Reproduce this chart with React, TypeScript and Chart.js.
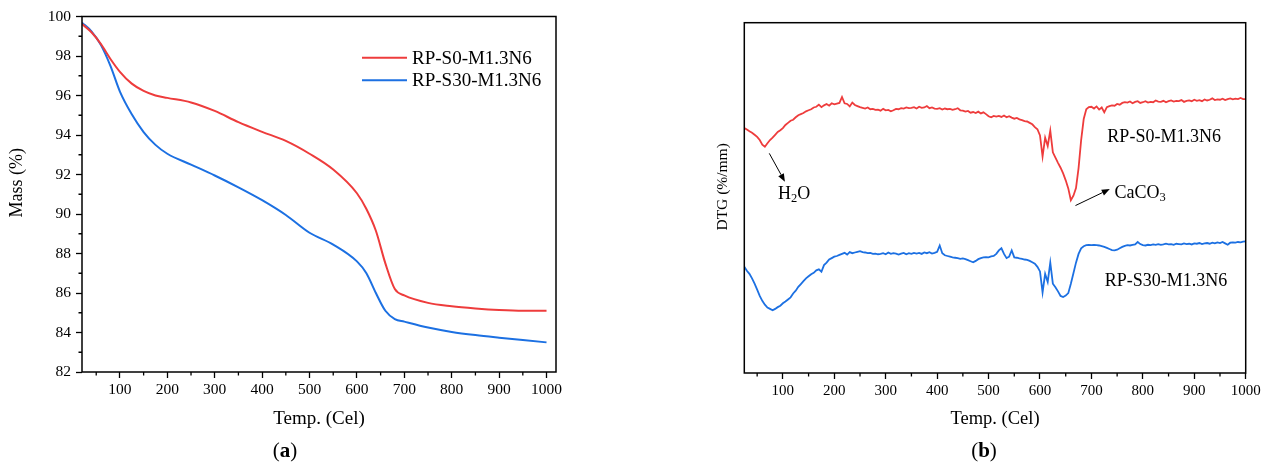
import React, { useEffect, useRef } from "react";
import { Chart, registerables } from "chart.js";
Chart.register(...registerables);

const FONT = "'Liberation Serif', 'Times New Roman', serif";
const RED = "rgb(238,60,60)";
const BLUE = "rgb(28,112,226)";
const SERIES = ["RP-S0-M1.3N6", "RP-S30-M1.3N6"];

// ---------- (a) TGA ----------
const tgaTemps = [20, 40, 60, 80, 100, 125, 150, 175, 200, 250, 300, 350, 400, 450, 500, 550, 600, 620, 640, 660, 680, 700, 750, 800, 850, 900, 950, 1000];
const massS0 = [99.62, 99.2, 98.6, 97.85, 97.2, 96.6, 96.23, 96.0, 95.88, 95.65, 95.22, 94.65, 94.16, 93.7, 93.05, 92.25, 91.05, 90.25, 89.15, 87.5, 86.2, 85.88, 85.5, 85.33, 85.22, 85.14, 85.1, 85.1];
const massS30 = [99.69, 99.25, 98.55, 97.5, 96.2, 95.05, 94.15, 93.5, 93.05, 92.5, 91.95, 91.35, 90.7, 89.95, 89.05, 88.45, 87.6, 87.0, 86.0, 85.1, 84.68, 84.55, 84.25, 84.03, 83.87, 83.74, 83.62, 83.5];
const tgaYTicks = [82, 84, 86, 88, 90, 92, 94, 96, 98, 100];
const tgaYMinor = [83, 85, 87, 89, 91, 93, 95, 97, 99];
const xTicks = [100, 200, 300, 400, 500, 600, 700, 800, 900, 1000];
const xMinor = [50, 150, 250, 350, 450, 550, 650, 750, 850, 950];

// ---------- (b) DTG (arbitrary units) ----------
const dtgTemps = [
  25, 30, 35, 40, 45, 50, 55, 60, 65, 70, 75, 80, 85, 90, 95,
  100, 105, 110, 115, 120, 125, 130, 135, 140, 145, 150, 155, 160, 165, 170, 175, 180, 185, 190, 195,
  200, 205, 210, 215, 220, 225, 230, 235, 240, 245, 250, 255, 260, 265, 270, 275, 280, 285, 290, 295,
  300, 305, 310, 315, 320, 325, 330, 335, 340, 345, 350, 355, 360, 365, 370, 375, 380, 385, 390, 395,
  400, 405, 410, 415, 420, 425, 430, 435, 440, 445, 450, 455, 460, 465, 470, 475, 480, 485, 490, 495,
  500, 505, 510, 515, 520, 525, 530, 535, 540, 545, 550, 555, 560, 565, 570, 575, 580, 585, 590, 595,
  600, 605, 610, 615, 620, 625, 630, 635, 640, 645, 650, 655, 660, 665, 670, 675, 680, 685, 690, 695,
  700, 705, 710, 715, 720, 725, 730, 735, 740, 745, 750, 755, 760, 765, 770, 775, 780, 785, 790, 795,
  800, 805, 810, 815, 820, 825, 830, 835, 840, 845, 850, 855, 860, 865, 870, 875, 880, 885, 890, 895,
  900, 905, 910, 915, 920, 925, 930, 935, 940, 945, 950, 955, 960, 965, 970, 975, 980, 985, 990, 995,
  1000,
];
const dtgS0 = [
  69.9, 69.5, 69.0, 68.6, 68.0, 67.4, 66.5, 65.2, 64.6, 65.6, 66.5, 67.2, 68.0, 68.8, 69.3,
  69.9, 70.8, 71.4, 72.0, 72.3, 73.0, 73.6, 73.9, 74.2, 74.7, 75.0, 75.3, 75.8, 76.0, 76.6, 75.9, 76.4, 76.8, 76.3, 77.0,
  76.7, 76.9, 77.1, 78.8, 77.0, 76.8, 76.1, 77.2, 76.5, 76.2, 75.9, 75.7, 75.5, 75.8, 75.3, 75.4, 75.1, 75.2, 74.9, 75.4,
  75.0, 75.1, 74.7, 75.0, 75.4, 75.3, 75.6, 75.5, 75.8, 75.6, 75.7, 75.9, 75.5, 76.0, 75.7, 75.8, 76.2, 75.6, 75.8, 75.5,
  75.4, 75.6, 75.2, 75.5, 75.3, 75.4, 75.1, 75.3, 75.6, 75.0, 74.9, 74.6, 74.8, 74.3, 74.5, 74.2, 74.6, 74.1, 74.4, 73.9,
  73.3, 73.0, 73.4, 73.2, 73.4, 73.1, 73.5, 73.0, 73.3, 72.9, 72.6, 72.8, 72.4, 72.2, 71.9, 71.8, 71.4, 71.0, 70.2, 69.6,
  67.8, 61.8, 67.2, 64.8, 69.2, 63.0, 61.5, 60.0, 58.6, 57.0, 55.0, 52.7, 49.3, 50.6, 52.8, 58.5, 66.5, 72.5, 75.3, 75.9,
  76.0, 75.5, 76.1, 75.2, 75.8, 74.4, 75.9, 76.2, 76.4, 76.3, 76.8, 76.6, 77.1, 77.3, 77.2, 77.5, 77.0, 77.4, 77.6, 77.1,
  77.3, 77.6, 77.2, 77.4, 77.3, 77.8, 77.5, 77.4, 77.7, 77.3, 77.6, 77.8, 77.5, 77.7, 77.6, 77.9, 77.4, 77.7, 77.8, 77.6,
  78.0, 77.7, 77.9, 77.6, 78.1, 77.8, 78.0, 78.4, 77.9, 78.1, 78.0, 78.3, 77.9, 78.2, 78.4, 78.1, 78.3, 78.2, 78.5, 78.2,
  78.2,
];
const dtgS30 = [
  30.3, 29.2, 28.3, 27.0, 25.5, 23.8, 22.0, 20.6, 19.5, 18.7, 18.3, 17.9, 18.3, 18.8, 19.2,
  19.9, 20.4, 21.0, 21.6, 22.7, 23.5, 24.6, 25.4, 26.2, 27.0, 27.6, 28.2, 28.6, 29.3, 29.6, 28.9, 30.8, 31.5, 32.4, 32.8,
  33.2, 33.4, 33.7, 34.0, 34.3, 33.8, 34.5, 34.2, 34.4, 34.6, 34.8, 34.5, 34.4, 34.2, 34.3, 34.0, 34.1, 33.9, 34.0, 34.2,
  33.9, 34.4, 34.0, 34.2, 34.1, 33.8, 34.1, 34.3, 33.9, 34.2, 34.0, 34.3, 34.1, 34.3, 34.0, 34.4, 34.2, 34.5, 34.1, 34.3,
  34.6, 36.4, 34.2, 33.6, 33.4, 33.2, 33.0, 32.9, 32.8, 32.6, 32.7, 32.5, 32.2, 31.9, 31.6, 32.0, 32.5, 32.8, 33.0, 33.1,
  33.0, 33.3, 33.4, 34.0, 35.0, 35.6, 34.0, 32.8, 33.2, 35.0, 33.0, 32.9, 32.7, 32.6, 32.4, 32.3, 32.0, 31.6, 31.2, 30.3,
  29.0, 23.0, 28.3, 26.0, 31.5, 25.5, 24.5, 23.3, 22.0, 21.7, 22.1, 22.8, 25.5, 28.5, 31.5, 34.0, 35.6, 36.2, 36.5, 36.6,
  36.5, 36.6, 36.5, 36.4, 36.2, 36.0, 35.7, 35.4, 35.1, 35.0, 35.2, 35.6, 36.0, 36.3, 36.5, 36.4, 36.6, 36.7, 37.4, 36.8,
  36.5, 36.4, 36.6, 36.5, 36.7, 36.6, 36.8, 36.6, 36.7, 36.9, 36.7, 36.8, 36.6, 36.9, 36.8, 36.7, 37.0, 36.8, 36.9, 36.7,
  37.0, 36.9, 37.1, 36.8, 37.0, 37.1, 36.9, 37.2, 37.0, 37.3, 37.1, 37.4, 37.0, 36.6, 37.2, 37.3, 37.2, 37.4, 37.3, 37.5,
  37.6,
];

// annotations (in data coordinates of chart b)
const dtgLabels = [
  { text: SERIES[0], x: 731, y: 67.4 },
  { text: SERIES[1], x: 726, y: 26.1 },
];
const dtgSpecies = [
  { parts: [["H", false], ["2", true], ["O", false]], x: 90.5, y: 51.1, from: [73.6, 62.7], to: [104, 54.6] },
  { parts: [["CaCO", false], ["3", true]], x: 745, y: 51.4, from: [669, 47.8], to: [735.7, 52.5] },
];

function pts(xs: number[], ys: number[]) {
  return xs.map((x, i) => ({ x, y: ys[i] }));
}

function decor(cfg: {
  yMinor: number[];
  yTitle: string;
  yTitleSize: number;
  yTitleDx: number;
  yTitleDy: number;
  extra?: (chart: any) => void;
}) {
  return {
    id: "decor",
    afterDraw(chart: any) {
      const { ctx, chartArea: ca, scales } = chart;
      ctx.save();
      ctx.strokeStyle = "#000";
      ctx.lineWidth = 1.5;
      ctx.strokeRect(ca.left, ca.top, ca.right - ca.left, ca.bottom - ca.top);
      ctx.lineWidth = 1.3;
      ctx.beginPath();
      for (const v of xMinor) {
        const px = scales.x.getPixelForValue(v);
        if (px < ca.left || px > ca.right) continue;
        ctx.moveTo(px, ca.bottom);
        ctx.lineTo(px, ca.bottom + 3.5);
      }
      for (const v of cfg.yMinor) {
        const py = scales.y.getPixelForValue(v);
        ctx.moveTo(ca.left, py);
        ctx.lineTo(ca.left - 3.5, py);
      }
      ctx.stroke();
      // y title
      ctx.fillStyle = "#000";
      ctx.font = `${cfg.yTitleSize}px ${FONT}`;
      ctx.textAlign = "center";
      ctx.textBaseline = "middle";
      ctx.translate(ca.left + cfg.yTitleDx, (ca.top + ca.bottom) / 2 + cfg.yTitleDy);
      ctx.rotate(-Math.PI / 2);
      ctx.fillText(cfg.yTitle, 0, 0);
      ctx.restore();
      if (cfg.extra) {
        ctx.save();
        cfg.extra(chart);
        ctx.restore();
      }
    },
  };
}

function xScale(min: number, max: number, h: number, tickSize: number, titleSize: number) {
  return {
    type: "linear",
    min,
    max,
    afterBuildTicks: (s: any) => {
      s.ticks = xTicks.map((v) => ({ value: v }));
    },
    afterFit: (s: any) => {
      s.height = h;
      s.paddingLeft = 0;
      s.paddingRight = 0;
    },
    grid: { drawOnChartArea: false, drawTicks: true, tickLength: 6, tickColor: "#000", tickWidth: 1.3 },
    border: { display: false },
    ticks: {
      color: "#000",
      font: { family: FONT, size: tickSize },
      padding: 3,
      maxRotation: 0,
      autoSkip: false,
      callback: (v: any) => String(v),
    },
    title: { display: true, text: "Temp. (Cel)", color: "#000", font: { family: FONT, size: titleSize }, padding: { top: 0, bottom: 9.6 } },
  };
}

function makeTga(canvas: HTMLCanvasElement) {
  return new Chart(canvas, {
    type: "line",
    data: {
      datasets: [
        { label: SERIES[0], data: pts(tgaTemps, massS0), borderColor: RED, borderWidth: 2, pointRadius: 0, cubicInterpolationMode: "monotone", fill: false },
        { label: SERIES[1], data: pts(tgaTemps, massS30), borderColor: BLUE, borderWidth: 2, pointRadius: 0, cubicInterpolationMode: "monotone", fill: false },
      ],
    },
    options: {
      responsive: false,
      animation: false,
      devicePixelRatio: 1,
      layout: { padding: { left: 0, top: 16.5, right: 64, bottom: 0 } },
      plugins: { legend: { display: false }, tooltip: { enabled: false } },
      scales: {
        x: xScale(20, 1020, 68, 15.5, 19) as any,
        y: {
          type: "linear",
          min: 82,
          max: 100,
          afterBuildTicks: (s: any) => {
            s.ticks = tgaYTicks.map((v) => ({ value: v }));
          },
          afterFit: (s: any) => {
            s.width = 82;
            s.paddingTop = 0;
            s.paddingBottom = 0;
          },
          grid: { drawOnChartArea: false, drawTicks: true, tickLength: 6, tickColor: "#000", tickWidth: 1.3 },
          border: { display: false },
          ticks: { color: "#000", font: { family: FONT, size: 15.5 }, padding: 5 },
        },
      },
    },
    plugins: [
      decor({
        yMinor: tgaYMinor,
        yTitle: "Mass (%)",
        yTitleSize: 18,
        yTitleDx: -64.5,
        yTitleDy: -11.5,
        extra: (chart: any) => {
          const { ctx, chartArea: ca } = chart;
          ctx.font = `19px ${FONT}`;
          ctx.textAlign = "left";
          ctx.textBaseline = "middle";
          chart.data.datasets.forEach((ds: any, i: number) => {
            const y = ca.top + 41.2 + i * 22.5;
            ctx.strokeStyle = ds.borderColor;
            ctx.lineWidth = 2;
            ctx.beginPath();
            ctx.moveTo(ca.right - 194, y);
            ctx.lineTo(ca.right - 149, y);
            ctx.stroke();
            ctx.fillStyle = "#000";
            ctx.fillText(ds.label, ca.right - 144, y + 1);
          });
        },
      }),
    ],
  } as any);
}

function drawArrow(ctx: CanvasRenderingContext2D, x1: number, y1: number, x2: number, y2: number) {
  const ang = Math.atan2(y2 - y1, x2 - x1);
  const hl = 8;
  const hw = 3.2;
  ctx.strokeStyle = "#000";
  ctx.fillStyle = "#000";
  ctx.lineWidth = 1;
  ctx.beginPath();
  ctx.moveTo(x1, y1);
  ctx.lineTo(x2 - hl * Math.cos(ang), y2 - hl * Math.sin(ang));
  ctx.stroke();
  ctx.beginPath();
  ctx.moveTo(x2, y2);
  ctx.lineTo(x2 - hl * Math.cos(ang) + hw * Math.sin(ang), y2 - hl * Math.sin(ang) - hw * Math.cos(ang));
  ctx.lineTo(x2 - hl * Math.cos(ang) - hw * Math.sin(ang), y2 - hl * Math.sin(ang) + hw * Math.cos(ang));
  ctx.closePath();
  ctx.fill();
}

function makeDtg(canvas: HTMLCanvasElement) {
  return new Chart(canvas, {
    type: "line",
    data: {
      datasets: [
        { label: SERIES[0], data: pts(dtgTemps, dtgS0), borderColor: RED, borderWidth: 1.8, pointRadius: 0, tension: 0, fill: false },
        { label: SERIES[1], data: pts(dtgTemps, dtgS30), borderColor: BLUE, borderWidth: 1.8, pointRadius: 0, tension: 0, fill: false },
      ],
    },
    options: {
      responsive: false,
      animation: false,
      devicePixelRatio: 1,
      layout: { padding: { left: 0, top: 22.7, right: 23.3, bottom: 0 } },
      plugins: { legend: { display: false }, tooltip: { enabled: false } },
      scales: {
        x: xScale(25, 1000, 67, 15, 18.5) as any,
        y: {
          type: "linear",
          min: 0,
          max: 100,
          afterFit: (s: any) => {
            s.width = 104.3;
            s.paddingTop = 0;
            s.paddingBottom = 0;
          },
          grid: { display: false, drawTicks: false },
          border: { display: false },
          ticks: { display: false },
        },
      },
    },
    plugins: [
      decor({
        yMinor: [],
        yTitle: "DTG (%/mm)",
        yTitleSize: 15.5,
        yTitleDx: -21,
        yTitleDy: -11,
        extra: (chart: any) => {
          const { ctx, scales } = chart;
          const X = (v: number) => scales.x.getPixelForValue(v);
          const Y = (v: number) => scales.y.getPixelForValue(v);
          ctx.fillStyle = "#000";
          ctx.textAlign = "left";
          ctx.textBaseline = "middle";
          ctx.font = `18px ${FONT}`;
          for (const l of dtgLabels) ctx.fillText(l.text, X(l.x), Y(l.y));
          for (const sp of dtgSpecies) {
            let x = X(sp.x);
            const y = Y(sp.y);
            for (const [t, sub] of sp.parts as [string, boolean][]) {
              ctx.font = sub ? `12.5px ${FONT}` : `18px ${FONT}`;
              ctx.fillText(t, x, sub ? y + 5 : y);
              x += ctx.measureText(t).width;
            }
            drawArrow(ctx, X(sp.from[0]), Y(sp.from[1]), X(sp.to[0]), Y(sp.to[1]));
          }
        },
      }),
    ],
  } as any);
}

const captionStyle = (cx: number): React.CSSProperties => ({
  position: "absolute",
  left: cx - 40,
  width: 80,
  top: 438,
  height: 24,
  lineHeight: "24px",
  textAlign: "center",
  fontFamily: FONT,
  fontSize: 21,
  color: "#000",
});

export default function App() {
  const refA = useRef<HTMLCanvasElement>(null);
  const refB = useRef<HTMLCanvasElement>(null);
  useEffect(() => {
    const a = makeTga(refA.current!);
    const b = makeDtg(refB.current!);
    return () => {
      a.destroy();
      b.destroy();
    };
  }, []);
  return (
    <div style={{ position: "absolute", left: 0, top: 0, width: 1269, height: 466, background: "#fff", overflow: "hidden" }}>
      <canvas ref={refA} width={620} height={440} style={{ position: "absolute", left: 0, top: 0, width: 620, height: 440 }} />
      <canvas ref={refB} width={629} height={440} style={{ position: "absolute", left: 640, top: 0, width: 629, height: 440 }} />
      <div style={captionStyle(285)}>
        (<b>a</b>)
      </div>
      <div style={captionStyle(984)}>
        (<b>b</b>)
      </div>
    </div>
  );
}
